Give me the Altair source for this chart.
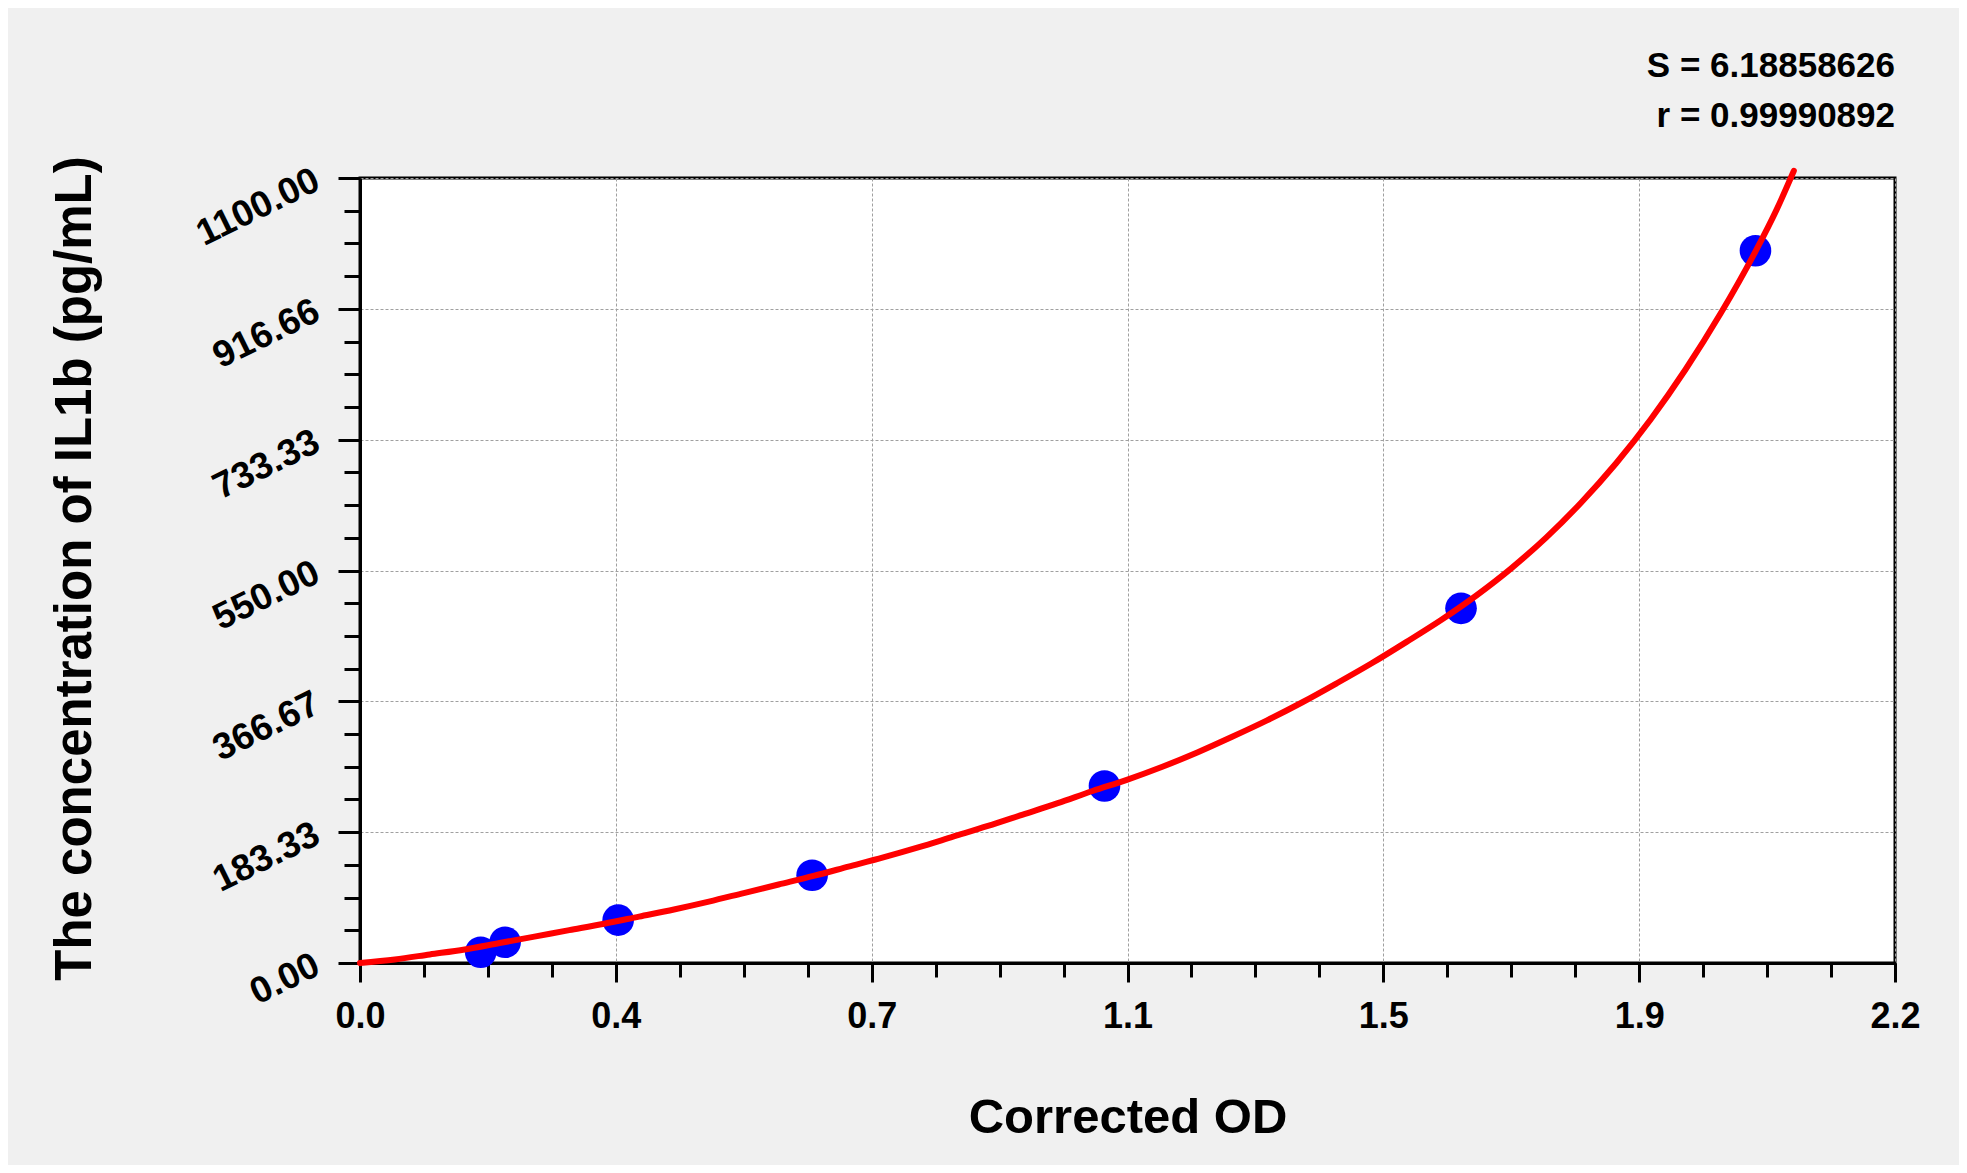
import altair as alt
import pandas as pd

# ---- data ----
od = [0.173, 0.208, 0.370, 0.648, 1.067, 1.578, 2.000]
conc = [15, 29, 60, 123, 248, 497, 998]

curve_x = [0.00, 0.05, 0.10, 0.15, 0.20, 0.25, 0.30, 0.35, 0.40, 0.45, 0.50,
           0.55, 0.60, 0.65, 0.70, 0.75, 0.80, 0.85, 0.90, 0.95, 1.00, 1.05,
           1.10, 1.15, 1.20, 1.25, 1.30, 1.35, 1.40, 1.45, 1.50, 1.55, 1.60,
           1.65, 1.70, 1.75, 1.80, 1.85, 1.90, 1.95, 2.00, 2.03, 2.055]
curve_y = [0, 5, 12, 19, 28, 37, 46, 55, 65, 75, 86,
           98, 110, 122, 135, 148, 162, 177, 192, 208, 224, 241,
           257, 275, 295, 317, 340, 365, 392, 420, 450, 481, 515,
           553, 596, 645, 700, 762, 832, 910, 997, 1055, 1110]

x_tick_labels = ["0.0", "0.4", "0.7", "1.1", "1.5", "1.9", "2.2"]
y_tick_labels = ["0.00", "183.33", "366.67", "550.00", "733.33", "916.66", "1100.00"]
x_max = 2.2
y_max = 1100.0
stat_lines = ["S = 6.18858626", "r = 0.99990892"]
x_title = "Corrected OD"
y_title = "The concentration of IL1b (pg/mL)"

# ---- derived tables ----
pts = pd.DataFrame({"od": od, "conc": conc})
curve = pd.DataFrame({"od": curve_x, "conc": curve_y})

n_major = len(x_tick_labels) - 1
x_major = [x_max * i / n_major for i in range(n_major + 1)]
y_major = [y_max * i / n_major for i in range(n_major + 1)]
x_minor = [x_max * i / (n_major * 4) for i in range(n_major * 4 + 1)]
y_minor = [y_max * i / (n_major * 4) for i in range(n_major * 4 + 1)]

def label_expr(labels, vmax):
    arr = "[" + ",".join("'" + s + "'" for s in labels) + "]"
    return arr + "[round(datum.value * " + str(n_major) + " / " + str(vmax) + ")]"

FONT = "Liberation Sans"
xs = alt.Scale(domain=[0, x_max], nice=False, zero=False)
ys = alt.Scale(domain=[0, y_max], nice=False, zero=False)

minor = alt.Chart(pts).mark_point(opacity=0).encode(
    x=alt.X("od:Q", scale=xs, axis=alt.Axis(
        values=x_minor, tickSize=14, tickWidth=3, tickColor="black",
        labels=False, domain=False, grid=False, title=None, orient="bottom")),
    y=alt.Y("conc:Q", scale=ys, axis=alt.Axis(
        values=y_minor, tickSize=16, tickWidth=3, tickColor="black",
        labels=False, domain=False, grid=False, title=None, orient="left")),
)

points = alt.Chart(pts).mark_circle(size=1000, color="#0000FF", opacity=1).encode(
    x=alt.X("od:Q", scale=xs, axis=alt.Axis(
        values=x_major, tickSize=19, tickWidth=3, tickColor="black",
        domain=True, domainWidth=3, domainColor="black",
        grid=True, gridColor="#a0a0a0", gridDash=[3, 2], gridWidth=1,
        labelExpr=label_expr(x_tick_labels, x_max), labelFlush=False,
        labelOverlap=False, labelFont=FONT, labelFontSize=36,
        labelFontWeight="bold", labelColor="black", labelPadding=17,
        title=x_title, titleFont=FONT, titleFontSize=49, titleFontWeight="bold",
        titleColor="black", titleBaseline="alphabetic", titleY=169,
        orient="bottom")),
    y=alt.Y("conc:Q", scale=ys, axis=alt.Axis(
        values=y_major, tickSize=22, tickWidth=3, tickColor="black",
        domain=True, domainWidth=3, domainColor="black",
        grid=True, gridColor="#a0a0a0", gridDash=[3, 2], gridWidth=1,
        labelExpr=label_expr(y_tick_labels, y_max), labelFlush=False,
        labelOverlap=False, labelFont=FONT, labelFontSize=37,
        labelFontWeight="bold", labelColor="black", labelPadding=21,
        labelAngle=-26, labelAlign="right", labelBaseline="middle",
        title=y_title, titleFont=FONT, titleFontSize=51, titleFontWeight="bold",
        titleColor="black", titleAngle=270, titleAlign="center",
        titleBaseline="alphabetic", titleX=-270, titleY=390,
        orient="left")),
)

line = alt.Chart(curve).mark_line(
    color="#FF0000", strokeWidth=6, strokeCap="round", interpolate="monotone",
    clip=False
).encode(
    x=alt.X("od:Q", scale=xs, axis=None),
    y=alt.Y("conc:Q", scale=ys, axis=None),
)

chart = alt.layer(minor, points, line).resolve_axis(
    x="independent", y="independent"
).properties(
    width=1535,
    height=785,
    autosize=alt.AutoSizeParams(type="none"),
    padding={"left": 352, "top": 170, "right": 64, "bottom": 202},
    background="#f0f0f0",
    title=alt.TitleParams(
        text=stat_lines, anchor="end", frame="group", orient="top",
        font=FONT, fontSize=35, fontWeight="bold", color="black",
        lineHeight=50, baseline="alphabetic", offset=40, dy=46),
).configure_view(
    fill="white", stroke="black", strokeWidth=3
)

chart.save("out.html", embed_options={"renderer": "svg", "actions": False})
